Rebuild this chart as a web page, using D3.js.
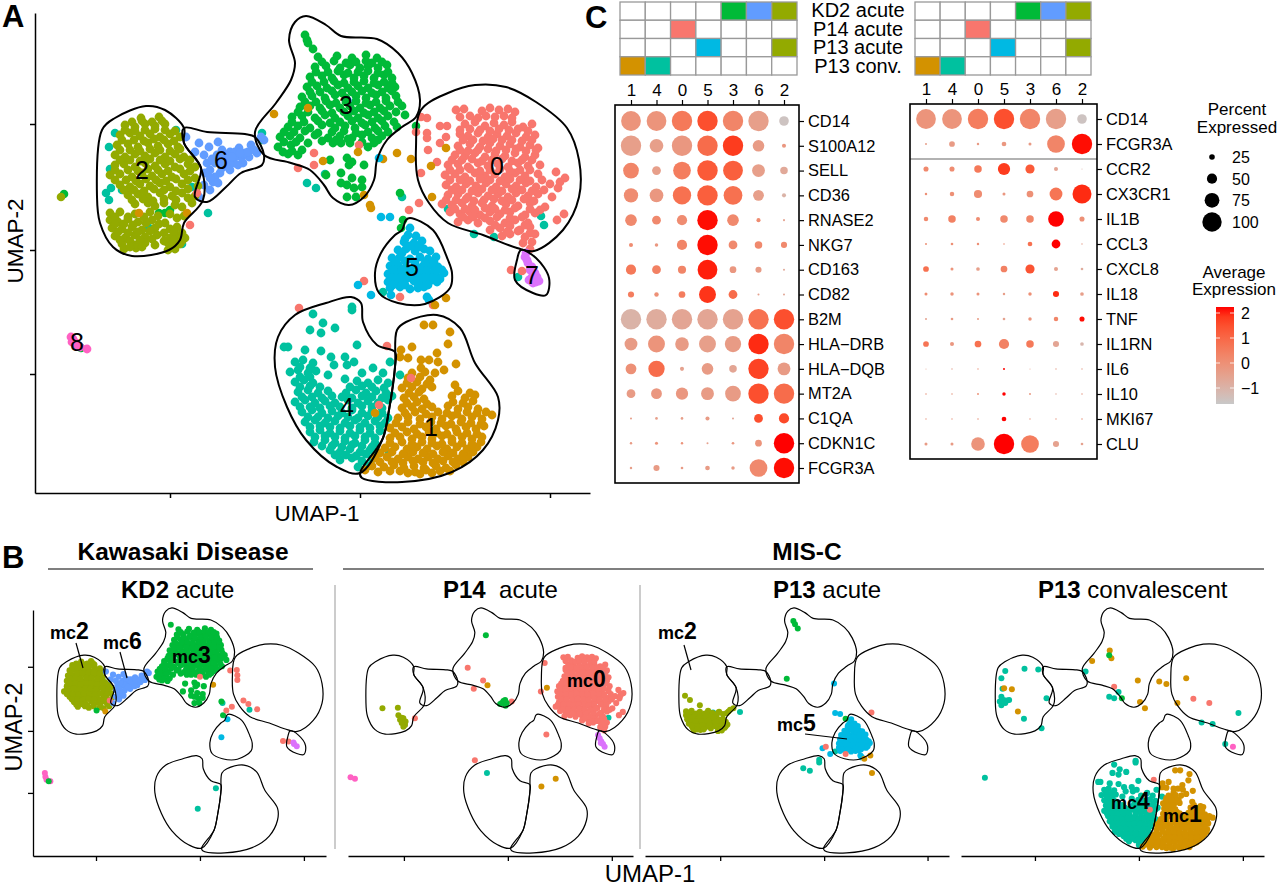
<!DOCTYPE html>
<html><head><meta charset="utf-8">
<script src="https://cdn.jsdelivr.net/npm/d3@7"></script>
<style>
html,body{margin:0;padding:0;background:#fff}
svg{display:block}
text{font-family:"Liberation Sans",Arial,sans-serif;fill:#000}
</style></head><body><svg id="fig" width="1280" height="886"></svg>
<script>
// ---------- DATA: read-off UMAP values (arbitrary read-off units) ----------
const clusterColors=["#F8766D","#D39200","#93AA00","#00BA38","#00C19F","#00B9E3","#619CFF","#DB72FB","#FF61C3"];
const cells0=[[96,140],[104,141],[122,139],[130,142],[139,140],[148,141],[155,138],[105,126],[115,128],[125,124],[134,127],[144,125],[152,128],[163,123],[172,126],
[100,116],[108,114],[118,117],[128,113],[137,116],[147,114],[156,117],[166,113],[175,115],[98,104],[110,106],[120,103],[130,107],[140,104],[150,106],[160,103],[170,105],[178,102],
[95,95],[105,94],[115,97],[125,93],[135,96],[145,94],[155,97],[165,93],[175,95],[88,85],[98,86],[108,83],[118,87],[128,84],[138,86],[148,83],[158,87],[168,84],[180,85],
[85,75],[95,76],[105,73],[115,77],[125,74],[135,76],[145,73],[155,77],[165,74],[178,76],[196,78],[205,72],[86,65],[96,63],[106,66],[116,64],[126,67],[136,63],[146,66],[156,64],[166,67],[176,63],[190,66],[198,62],
[88,55],[98,56],[108,53],[118,57],[128,54],[138,56],[148,53],[156,57],[168,54],[178,56],[192,53],[82,46],[92,45],[102,47],[112,44],[122,47],[132,44],[146,46],[158,44],[170,47],[185,43],[204,36],
[90,38],[100,36],[110,38],[120,35],[130,38],[140,36],[150,38],[165,35],[175,37],[197,30],[98,28],[108,30],[118,27],[130,29],[145,27],[155,30],[168,27],[130,20],[140,22],[160,20],[170,23],[142,14],[150,16],[165,13],[175,16],[163,7],[172,8],[170,1]];
const cells0Fill=[[100,133],[110,134],[118,132],[126,134],[135,133],[144,134],[152,132],[100,120],[110,121],[120,120],[130,119],[139,121],[149,120],[158,121],[168,119],
[103,110],[113,110],[123,109],[133,111],[142,110],[152,110],[162,109],[172,110],[100,100],[108,99],[118,100],[128,101],[136,99],[146,100],[156,101],[166,99],[176,100],
[92,90],[102,90],[112,91],[122,89],[132,90],[142,91],[152,89],[162,90],[172,90],[90,80],[100,80],[110,81],[120,79],[130,80],[140,81],[150,79],[160,80],[170,80],
[90,70],[100,70],[110,69],[120,71],[130,70],[140,69],[150,71],[160,70],[170,69],[182,70],[200,68],[92,60],[102,60],[112,59],[122,61],[132,60],[142,59],[152,61],[162,60],[172,59],[184,60],
[86,50],[96,50],[106,51],[114,49],[124,50],[134,51],[142,49],[152,50],[164,51],[174,49],[95,41],[105,41],[115,40],[125,42],[135,41],[145,40],[155,42],[170,41],[180,40],[103,33],[113,33],[125,32],[137,33],[150,32],[162,33],[135,25],[150,24],[165,25],[147,18],[158,19],[170,17]];
const cells1=[[64,-75],[73,-75],[90,-82],[41,-100],[52,-97],[77,-103],[88,-94],[40,-107],[48,-108],[61,-110],[69,-110],[78,-112],[96,-114],[61,-118],[84,-120],[75,-123],
[48,-128],[60,-127],[70,-130],[42,-138],[52,-137],[62,-139],[72,-137],[95,-135],[44,-148],[54,-147],[64,-149],[92,-146],[105,-148],[115,-145],[42,-158],[52,-157],[62,-159],[72,-157],[88,-156],[98,-159],[108,-157],[118,-159],
[38,-168],[48,-167],[60,-169],[72,-167],[82,-169],[92,-166],[102,-169],[112,-167],[122,-169],[132,-165],[30,-178],[42,-177],[54,-179],[66,-177],[76,-179],[86,-176],[96,-179],[106,-177],[116,-179],[124,-176],
[30,-188],[40,-187],[52,-189],[62,-187],[72,-189],[82,-186],[92,-189],[102,-187],[112,-189],[122,-187],[25,-198],[35,-197],[47,-199],[57,-197],[67,-199],[77,-196],[87,-199],[97,-197],[107,-199],[117,-197],
[15,-208],[27,-207],[38,-209],[48,-207],[58,-209],[68,-207],[78,-209],[88,-206],[98,-209],[108,-207],[12,-216],[24,-217],[34,-215],[44,-218],[54,-216],[64,-218],[76,-216],[86,-218],[96,-215],[5,-220],[18,-222],[48,-223],[60,-224],[72,-223]];
const cells1Fill=[[52,-123],[65,-122],[47,-133],[57,-132],[67,-134],[49,-143],[59,-142],[98,-141],[110,-143],[47,-153],[57,-152],[67,-154],[93,-152],[103,-153],[113,-151],
[45,-163],[55,-162],[66,-164],[78,-162],[87,-163],[97,-164],[107,-162],[117,-163],[126,-162],[36,-173],[48,-172],[60,-174],[71,-172],[81,-173],[91,-174],[101,-172],[111,-173],[121,-174],
[35,-183],[47,-182],[57,-184],[69,-182],[77,-183],[87,-184],[97,-182],[107,-183],[117,-184],[30,-193],[42,-192],[52,-194],[62,-192],[72,-193],[82,-194],[92,-192],[102,-193],[112,-194],[121,-192],
[20,-203],[32,-202],[43,-204],[53,-202],[63,-203],[73,-204],[83,-202],[93,-203],[103,-204],[113,-202],[20,-212],[32,-212],[43,-213],[53,-211],[63,-212],[73,-213],[83,-211],[93,-212],[103,-212],[30,-221],[40,-221],[55,-222],[66,-220],[80,-221],[90,-221]];
const cells2Upper=[[-219,132],[-201,133],[-235,125],[-225,123],[-215,126],[-205,124],[-195,126],[-240,115],[-230,117],[-220,114],[-210,116],[-200,113],[-190,116],[-180,113],
[-243,105],[-232,106],[-222,103],[-212,107],[-202,104],[-192,106],[-182,103],[-245,95],[-235,93],[-225,96],[-215,94],[-205,97],[-195,93],[-185,96],[-176,93],
[-245,85],[-236,86],[-225,83],[-215,87],[-205,84],[-195,86],[-185,83],[-172,86],[-165,83],[-250,75],[-240,76],[-228,73],[-218,77],[-208,74],[-198,76],[-188,73],[-176,76],[-165,72],
[-240,65],[-230,63],[-220,66],[-210,64],[-200,67],[-190,63],[-178,66],[-162,64],[-232,55],[-222,56],[-212,53],[-200,57],[-188,54],[-178,57],[-165,54],[-225,46],[-212,47],[-205,44],[-196,47],[-185,45],[-178,43],[-168,47]];
const cells2UpperFill=[[-228,128],[-218,129],[-208,128],[-198,129],[-235,120],[-225,119],[-215,120],[-205,121],[-195,120],[-185,119],[-238,110],[-226,110],[-216,109],[-206,111],[-196,110],[-186,109],[-240,100],[-230,100],[-220,99],[-210,101],[-200,100],[-190,99],[-180,101],
[-240,90],[-230,90],[-220,89],[-210,91],[-200,90],[-190,89],[-180,91],[-170,90],[-245,80],[-232,80],[-222,79],[-212,81],[-202,80],[-192,79],[-180,81],[-170,79],[-245,70],[-234,70],[-224,69],[-214,71],[-204,70],[-194,69],[-184,71],[-172,70],
[-236,60],[-226,60],[-216,59],[-206,61],[-196,60],[-184,59],[-172,61],[-228,50],[-217,51],[-207,49],[-196,51],[-184,50],[-172,52]];
const cells2Lower=[[-250,37],[-240,38],[-225,36],[-210,38],[-190,36],[-176,34],[-250,30],[-242,28],[-232,31],[-222,28],[-208,30],[-195,27],[-248,22],[-238,21],[-228,23],[-218,20],[-205,22],[-190,21],[-183,23],
[-245,14],[-235,12],[-225,15],[-215,13],[-203,15],[-190,12],[-182,14],[-175,12],[-238,6],[-225,5],[-215,7],[-205,5],[-192,7],[-186,4],[-180,6],[-236,1],[-224,2],[-192,0],[-185,1]];
const cells2LowerFill=[[-245,33],[-232,33],[-216,33],[-202,34],[-183,32],[-245,26],[-236,26],[-227,25],[-214,27],[-201,26],[-242,18],[-232,17],[-222,18],[-210,19],[-196,17],[-186,18],[-178,17],[-240,10],[-230,9],[-220,10],[-208,11],[-196,9],[-186,10],[-178,9],[-230,3],[-218,3],[-188,3]];
const cells3Top=[[-55,215],[-53,210],[-52,207],[-47,201]];
const cells3=[[-42,193],[-23,194],[-8,192],[6,195],[17,192],[-45,183],[-34,184],[-20,182],[-10,185],[0,182],[8,184],[18,182],[27,185],[-50,173],[-38,174],[-28,172],[-16,175],[-6,172],[4,174],[14,172],[24,175],[32,172],
[-53,163],[-43,164],[-33,162],[-22,165],[-12,162],[-2,164],[8,162],[18,165],[28,162],[35,163],[-58,153],[-48,154],[-35,152],[-25,155],[-14,152],[-4,154],[6,152],[16,155],[26,152],[36,154],
[-60,143],[-50,144],[-40,142],[-30,145],[-20,142],[-10,144],[0,142],[10,145],[20,142],[30,144],[42,144],[-68,133],[-58,134],[-45,132],[-35,135],[-25,132],[-12,134],[-2,132],[8,135],[18,132],[28,134],[45,135],
[-72,123],[-62,124],[-50,122],[-38,125],[-25,122],[-15,124],[-5,122],[5,125],[15,122],[25,124],[37,123],[-80,113],[-70,114],[-60,112],[-45,115],[-32,112],[-20,114],[-8,112],[2,115],[12,112],[22,114],
[-82,103],[-69,105],[-52,107],[-27,107],[-19,107],[-10,107],[8,103],[18,110],[-72,96],[-62,95],[-30,90],[-13,92],[-8,88],[4,85],[-11,85],[-19,77],[-34,75],[-8,72],[2,70],[-13,65],[-6,62],[2,63],[-13,53],[-4,53],[-19,67]];
const cells3Fill=[[-38,188],[-26,189],[-14,187],[-4,188],[6,189],[12,187],[22,188],[-44,178],[-32,178],[-22,179],[-12,177],[-2,178],[8,179],[18,177],[28,178],[-48,168],[-36,168],[-26,169],[-16,167],[-6,168],[4,169],[14,167],[24,168],[32,167],
[-50,158],[-40,158],[-28,159],[-18,157],[-8,158],[2,159],[12,157],[22,158],[32,159],[-55,148],[-44,148],[-34,149],[-24,147],[-14,148],[-4,149],[6,147],[16,148],[26,149],[38,148],[-62,138],[-52,138],[-38,139],[-28,137],[-16,138],[-6,139],[4,137],[14,138],[24,139],[36,138],
[-68,128],[-56,128],[-42,129],[-30,127],[-20,128],[-8,129],[2,127],[12,128],[22,129],[34,128],[-76,118],[-66,118],[-55,119],[-42,117],[-28,118],[-16,119],[-4,117],[8,118],[18,119],[28,118],[-76,108],[-64,108],[-38,109],[-24,110],[-12,111],[2,108],[14,107],[-77,98],[-68,99],[-58,100]];
const cells4=[[-8,-57],[-8,-60],[-47,-64],[-37,-73],[-50,-80],[-39,-83],[-25,-78],[-3,-95],[-76,-97],[-72,-97],[-55,-100],[-39,-101],[-29,-107],[-15,-107],[-6,-112],[-26,-115],[-13,-115],[30,-112],[13,-118],[-32,-125],[-15,-129],[2,-123],[23,-123],[40,-125],
[-65,-112],[-57,-110],[-47,-113],[-70,-122],[-62,-120],[-52,-123],[-44,-121],[-65,-132],[-56,-130],[-47,-133],[-3,-131],[8,-133],[18,-130],[28,-133],[-62,-142],[-52,-140],[-42,-143],[-32,-141],[-14,-143],[-4,-140],[6,-143],[16,-141],[26,-143],
[-65,-152],[-55,-150],[-45,-153],[-35,-151],[-25,-153],[-12,-150],[-2,-153],[8,-151],[18,-153],[28,-150],[-58,-162],[-48,-160],[-38,-163],[-28,-161],[-18,-163],[-8,-160],[2,-163],[12,-161],[22,-163],
[-55,-172],[-45,-170],[-35,-173],[-25,-171],[-15,-173],[-5,-170],[5,-173],[15,-171],[25,-173],[-50,-182],[-40,-180],[-30,-183],[-20,-181],[-10,-183],[0,-180],[10,-183],[20,-181],[-46,-192],[-35,-190],[-25,-193],[-15,-191],[-5,-193],[5,-190],[15,-193],
[-30,-200],[-20,-202],[-10,-199],[0,-202],[10,-200],[29,-203],[-20,-210],[-8,-208],[2,-211],[12,-209],[-2,-217],[8,-216]];
const cells4Fill=[[-60,-117],[-50,-118],[-60,-127],[-50,-127],[-60,-137],[-50,-136],[-40,-137],[-10,-137],[2,-136],[12,-137],[24,-138],[-58,-147],[-48,-147],[-38,-148],[-28,-146],[-18,-147],[-8,-148],[2,-146],[12,-147],[22,-148],[32,-146],
[-60,-157],[-50,-157],[-40,-158],[-30,-156],[-20,-157],[-8,-158],[2,-156],[12,-157],[22,-158],[-52,-167],[-42,-167],[-32,-168],[-22,-166],[-12,-167],[-2,-168],[8,-166],[18,-167],[28,-168],[-50,-177],[-40,-176],[-30,-177],[-20,-178],[-10,-176],[0,-177],[10,-178],[20,-176],
[-45,-187],[-35,-186],[-25,-187],[-15,-188],[-5,-186],[5,-187],[15,-188],[-38,-196],[-28,-196],[-18,-197],[-8,-195],[2,-196],[12,-197],[-25,-205],[-14,-205],[-4,-206],[6,-204],[16,-205]];
const cells5=[[50,22],[48,15],[56,14],[44,8],[54,7],[62,9],[38,0],[46,1],[55,-1],[64,1],[70,-1],[32,-8],[40,-7],[50,-9],[60,-7],[68,-9],[76,-7],[30,-16],[38,-15],[46,-17],[55,-15],[62,-17],[70,-15],[78,-17],
[28,-24],[36,-23],[44,-25],[52,-23],[60,-25],[68,-23],[76,-25],[84,-23],[28,-32],[36,-31],[44,-33],[54,-31],[62,-33],[70,-31],[77,-32],[30,-38],[40,-37],[50,-39],[58,-38],[64,-37],[67,-47],[69,-50],
[45,11],[50,4],[42,-3],[59,3],[36,-12],[45,-11],[55,-12],[65,-13],[74,-12],[33,-20],[42,-20],[50,-20],[59,-20],[66,-21],[74,-21],[82,-20],[32,-28],[40,-28],[48,-28],[56,-28],[64,-28],[72,-28],[80,-29],[33,-35],[45,-35],[58,-34],[68,-35]];
const cells6=[[-174,113],[-161,107],[-165,98],[-151,103],[-142,108],[-130,98],[-121,102],[-109,105],[-103,97],[-119,93],[-126,92],[-134,90],[-143,95],[-153,87],[-145,87],[-138,82],[-126,87],[-117,87],[-111,93],[-155,77],[-145,73],[-140,77],[-147,68],[-150,60],[-161,53],[-130,80],[-96,110],[-99,113],[-135,95],[-125,98],[-115,97],[-140,88],[-130,86],
[-156,95],[-148,91],[-138,100],[-128,93],[-120,97],[-112,98],[-134,84],[-122,85],[-150,80],[-142,67],[-150,72],[-156,65],[-106,100]];
const cells7=[[166,-3],[165,-7],[168,-13],[170,-20],[175,-23],[172,-27],[169,-30],[176,-32],[167,-10],[172,-17],[177,-27],[173,-33],[179,-31]];
const cells8=[[-289,-87],[-287,-89],[-288,-92],[-286,-92],[-284,-93],[-283,-95],[-280,-97],[-273,-99]];
const straysA=[[0,67,132],[0,61,133],[0,80,124],[0,87,124],[0,67,117],[0,67,112],[0,56,118],[0,86,113],[0,68,100],[0,80,107],[0,77,88],[0,61,77],[0,59,47],[0,49,40],[0,-62,82],[0,-46,97],[0,-46,85],[0,-1,105],[0,-170,25],[0,-163,57],[0,-61,-58],[0,4,-31],[0,40,-47],[0,27,-96],[0,51,-128],[0,19,-155],[0,73,-55],[0,151,-20],[0,162,-21],
[1,-86,136],[1,-52,142],[1,-37,89],[1,-2,98],[1,23,91],[1,37,97],[1,51,91],[1,71,84],[1,86,102],[1,72,53],[1,10,45],[1,11,42],[1,4,55],[1,-173,37],[1,-221,37],[1,75,-55],[1,86,-48],[1,15,-163],
[4,-251,103],[4,-250,81],[4,-245,117],[4,-254,57],[4,-249,62],[4,-251,50],[4,-238,60],[4,-168,63],[4,-152,37],[4,-211,22],[4,-178,6],[4,-53,67],[4,-44,62],[4,-35,76],[4,42,53],[4,88,41],[4,181,34],[4,184,25],[4,114,16],[4,134,13],[4,-184,120],[4,-98,117],[4,23,-42],[4,158,-27],
[3,-201,37],[3,-190,40],[3,-195,37],[3,56,124],[3,43,30],[3,41,22],[3,40,57],[3,-98,110],[3,-279,-98],[3,-296,56],[2,-299,53],[5,21,33],[5,30,33],[5,19,92],[5,31,-45],[5,11,-45],[5,-2,-35]];
const extrasKD2=[[3,-56,202],[3,-191,39],[3,36,56],[3,39,30],[0,52,115],[0,64,116],[0,65,106],[0,65,97],[0,76,58],[0,85,51],[0,101,41],[0,55,46],[0,45,39],[0,148,-19],[0,158,-20],[0,-3,103],[0,-167,58],[1,-175,37],[1,21,88],[4,87,40],[4,26,-109],[4,-7,-148],[4,38,53],[5,47,22],[5,36,-12],[7,168,-25],[7,173,-29],[7,167,-22],[8,-285,-80],[8,-284,-87],[8,-282,-93],[8,-275,-96],[3,-278,-96]];
const extrasP14=[[2,-233,43],[2,-205,44],[2,-204,30],[2,-201,21],[2,-195,24],[2,-198,15],[2,-192,11],[2,-195,8],[2,-191,18],[2,-198,25],[0,-174,24],[0,-78,120],[0,-50,96],[0,-67,80],[0,2,56],[0,62,129],[0,55,75],[0,65,-7],[0,-65,-56],[1,-42,87],[1,66,82],[1,56,-106],[1,82,-91],[3,-45,182],[3,-16,53],[3,-10,59],[3,-7,53],[3,-13,57],[3,-19,51],[3,-9,48],[4,178,25],[4,-43,-80],[7,159,-8],[7,162,-14],[7,165,-20],[7,168,-25],[7,171,-30],[7,164,-23],[8,-291,-88],[8,-283,-91]];
const extrasP13a=[[3,-55,209],[3,-52,203],[3,-47,195],[3,-67,99],[3,40,23],[5,19,90],[5,21,34],[5,30,32],[5,-2,-33],[5,12,-44],[0,87,35],[0,4,-30],[0,40,-44],[4,-152,36],[4,-201,35],[4,-37,-71],[4,-25,-76],[4,-8,-55],[4,-8,-60],[4,21,-39],[1,74,-53],[1,85,-47],[1,88,-80],[2,-252,67],[2,-243,59],[2,-225,49],[2,-192,34],[2,-170,40],[2,-164,43],[2,-173,37]];
const extrasP13c=[[4,-245,114],[4,-210,118],[4,-185,117],[4,-252,100],[4,-250,80],[4,-252,65],[4,-248,59],[4,-255,56],[4,-242,58],[4,-238,59],[4,-252,49],[4,-245,53],[4,-211,23],[4,-179,5],[4,-170,62],[4,-282,-89],[4,-99,113],[4,-39,74],[4,-56,65],[4,-47,62],[4,179,34],[4,112,16],[4,132,13],[4,155,-25],[1,-247,81],[1,-233,79],[1,-222,37],[1,-87,133],[1,-55,153],[1,-52,138],[1,-4,96],[1,35,94],[1,48,89],[1,84,100],[1,68,53],[1,0,55],[1,9,43],[0,-47,84],[0,97,61],[0,126,53],[0,25,-93],[0,18,-150],[3,-56,144],[3,-33,62],[8,169,-30]];
const outline0=[[115,165],[146,163],[176,148],[207,122],[219,90],[219,53],[203,20],[174,-1],[157,2],[123,15],[88,27],[69,47],[58,70],[56,103],[61,140],[88,157]];
const outline1=[[37,-80],[46,-72],[77,-65],[100,-78],[115,-113],[138,-147],[138,-170],[123,-200],[92,-222],[42,-232],[2,-228],[0,-223],[17,-198],[23,-188],[29,-160],[35,-117]];
const outline2=[[-214,144],[-195,140],[-176,122],[-176,107],[-159,82],[-157,50],[-176,27],[-180,10],[-191,0],[-228,-6],[-247,3],[-260,27],[-263,53],[-258,120],[-245,132]];
const outline3=[[-54,234],[-34,225],[-19,214],[17,211],[38,197],[52,177],[60,150],[56,133],[42,123],[27,110],[17,90],[14,70],[4,53],[-11,45],[-27,52],[-36,65],[-50,80],[-69,87],[-96,95],[-105,118],[-84,147],[-69,170],[-65,187],[-71,210],[-65,228]];
const outline4=[[-9,-47],[1,-53],[3,-72],[17,-95],[35,-102],[35,-117],[29,-160],[23,-188],[0,-223],[-23,-217],[-54,-190],[-73,-157],[-85,-117],[-82,-87],[-65,-65],[-34,-53]];
const outline5=[[50,32],[73,20],[88,-10],[92,-23],[90,-38],[65,-54],[38,-53],[19,-43],[15,-23],[21,-3],[35,15],[42,20],[46,30]];
const outline6=[[-176,122],[-153,118],[-115,116],[-105,113],[-96,95],[-98,85],[-119,77],[-134,63],[-153,48],[-165,53],[-159,82],[-176,107]];
const outline7=[[161,0],[176,-8],[189,-28],[186,-45],[173,-43],[155,-30],[157,-10]];
const clusterLabels=["0","1","2","3","4","5","6","7","8"];
const labelU=[137,71,-218,-14,-13,52,-139,172,-283];
const labelV=[84,-177,80,145,-157,-17,90,-25,-92];
const xTicksA=[-190,0,190], yTicksA=[-124,0,126];
const facetTitleBold=["KD2","P14","P13","P13"];
const facetTitleRest=[" acute","  acute"," acute"," convalescent"];
const colOrder=["1","4","0","5","3","6","2"];
const gridRows=["KD2 acute","P14 acute","P13 acute","P13 conv."];
const gridFill=[[null,null,null,null,3,6,2],[null,null,0,null,null,null,null],[null,null,null,5,null,null,2],[1,4,null,null,null,null,null]];
const genesL=["CD14","S100A12","SELL","CD36","RNASE2","NKG7","CD163","CD82","B2M","HLA\u2212DRB","HLA\u2212DQB","MT2A","C1QA","CDKN1C","FCGR3A"];
const pctL=[[97,97,100,100,100,100,47],[100,67,100,100,100,57,20],[77,43,87,100,97,63,37],[70,67,90,100,92,53,20],[57,43,50,100,57,20,10],[20,17,50,100,43,37,30],[50,43,40,97,33,30,10],[30,22,33,83,43,10,10],[100,100,100,100,100,100,100],[63,83,67,83,80,100,100],[53,80,20,57,37,100,63],[43,53,60,63,77,100,100],[10,13,13,20,10,43,50],[12,15,12,10,13,33,100],[12,30,13,23,17,87,100]];
const expL=[[-.1,-.1,.6,1.5,.3,-.4,-1.5],[-.4,-.4,-.2,.9,1.8,-.3,-.2],[.3,-.4,.5,1.3,1.2,-.4,-.7],[.1,-.2,.8,1.2,.8,-.4,-1],[.2,.2,.1,2.2,.2,.1,-.5],[.1,-.2,.3,2.2,.2,.2,.2],[.6,.4,.3,2.1,-.2,-.3,-.7],[.5,0,.5,1.9,.9,-.5,-.7],[-1,-.8,-.6,-.6,-.5,.8,1.5],[-.3,-.1,-.3,-.4,-.3,2,.3],[0,.9,-.5,-.3,-.6,1.7,-.3],[-.3,-.2,-.2,-.3,-.3,1.5,.9],[-.4,-.4,-.4,-.3,-.6,1.5,1.6],[-.3,-.1,-.1,-.5,-.2,-.1,2.3],[-.4,-.3,-.3,-.3,-.3,.2,2.2]];
const genesR=["CD14","FCGR3A","CCR2","CX3CR1","IL1B","CCL3","CXCL8","IL18","TNF","IL1RN","IL6","IL10","MKI67","CLU"];
const pctR=[[97,97,100,100,100,100,47],[10,28,12,23,15,87,100],[25,25,37,60,45,20,5],[12,22,40,15,33,63,93],[22,37,20,37,37,77,25],[10,13,12,8,23,43,7],[28,15,18,33,45,20,13],[15,17,15,12,17,30,18],[10,13,10,13,17,22,25],[28,20,33,50,37,30,18],[5,7,7,10,5,7,7],[8,8,10,17,10,7,8],[7,7,8,23,7,7,8],[15,15,67,100,87,30,13]];
const expR=[[-.1,-.1,.5,1.5,.3,-.4,-1.5],[-.4,-.3,-.3,-.2,-.3,.3,2.2],[.2,.1,.6,1.8,1.3,-.6,-1],[0,0,.1,-.2,0,.7,2],[.2,.4,.1,.2,.3,2.3,0],[0,0,0,-.1,.8,2.3,-.5],[.8,-.1,-.4,.4,1.4,-.5,-.8],[.1,-.1,-.1,-.4,0,2,-.4],[-.5,-.3,-.3,-.5,-.1,.3,2.2],[.7,-.2,.8,.4,.6,-.6,-1.1],[-.6,-.6,-.2,2.3,-.4,-.5,-.5],[-.3,-.4,-.1,2.3,-.3,-.7,-.5],[-.3,-.3,-.3,2.3,-.3,-.3,-.3],[-.3,-.3,-.1,2.3,.5,-.5,-.5]];
const legendPct=[25,50,75,100];
const legendExp=[2,1,0,-1];

// ---------- DRAW ----------
const svg=d3.select("#fig");
const outlines=[outline0,outline1,outline2,outline3,outline4,outline5,outline6,outline7];
const all0=cells0.concat(cells0Fill), all1=cells1.concat(cells1Fill), all3=cells3.concat(cells3Fill), all4=cells4.concat(cells4Fill);
const all2U=cells2Upper.concat(cells2UpperFill), all2L=cells2Lower.concat(cells2LowerFill), cells2=all2U.concat(all2L);
const text=(g,x,y,s,size,o={})=>g.append("text").attr("x",x).attr("y",y).attr("font-size",size)
  .attr("text-anchor",o.anchor||"start").attr("font-weight",o.bold?"bold":"normal").attr("transform",o.rot?`rotate(-90 ${x} ${y})`:null).text(s);
const dots=(g,data,color,x,y,r)=>g.append("g").selectAll("circle").data(data).join("circle")
  .attr("cx",d=>x(d[0])).attr("cy",d=>y(d[1])).attr("r",r).attr("fill",color);
const strayDots=(g,data,x,y,r)=>g.append("g").selectAll("circle").data(data).join("circle")
  .attr("cx",d=>x(d[1])).attr("cy",d=>y(d[2])).attr("r",r).attr("fill",d=>clusterColors[d[0]]);
const line=(x,y)=>d3.line().x(d=>x(d[0])).y(d=>y(d[1])).curve(d3.curveCatmullRomClosed.alpha(0.5));
const drawOutlines=(g,x,y,w)=>g.append("g").selectAll("path").data(outlines).join("path")
  .attr("d",line(x,y)).attr("fill","none").attr("stroke","#000").attr("stroke-width",w);
function styleAxis(sel,w){sel.selectAll("path,line").attr("stroke","#000").attr("stroke-width",w);sel.selectAll("text").remove();}

// Panel A
const gA=svg.append("g");
const xA=d3.scaleLinear().domain([-325,230]).range([35,590]);
const yA=d3.scaleLinear().domain([-243,237]).range([493,13]);
strayDots(gA,straysA.filter(d=>d[0]==4||d[0]==3),xA,yA,4.3);
[[all0,0],[cells6,6],[cells2,2],[cells3Top,3],[all3,3],[cells5,5],[all4,4],[all1,1],[cells7,7],[cells8,8]].forEach(([c,i])=>dots(gA,c,clusterColors[i],xA,yA,4.4));
strayDots(gA,straysA.filter(d=>d[0]!=4&&d[0]!=3),xA,yA,4.3);
drawOutlines(gA,xA,yA,2);
gA.append("g").attr("transform","translate(0,493)").call(d3.axisBottom(xA).tickValues(xTicksA).tickSize(5).tickSizeOuter(0)).call(styleAxis,1.5);
gA.append("g").attr("transform","translate(35,0)").call(d3.axisLeft(yA).tickValues(yTicksA).tickSize(5).tickSizeOuter(0)).call(styleAxis,1.5);
clusterLabels.forEach((s,i)=>text(gA,xA(labelU[i]),yA(labelV[i])+9,s,25,{anchor:"middle"}));
text(gA,317,521,"UMAP-1",22.5,{anchor:"middle"});
text(gA,23,241,"UMAP-2",22.5,{anchor:"middle",rot:true});
text(svg,2,27,"A",31,{bold:true});
text(svg,2,568,"B",31,{bold:true});
text(svg,585,28,"C",31,{bold:true});

// Panel B
text(svg,183,560,"Kawasaki Disease",24.5,{anchor:"middle",bold:true});
text(svg,807,560,"MIS-C",24.5,{anchor:"middle",bold:true});
[[48,313],[343,1264]].forEach(([a,b])=>svg.append("line").attr("x1",a).attr("x2",b).attr("y1",569).attr("y2",569).attr("stroke","#000").attr("stroke-width",1.2));
[335,640].forEach(x=>svg.append("line").attr("x1",x).attr("x2",x).attr("y1",585).attr("y2",849).attr("stroke","#bbb").attr("stroke-width",1.5));
const yB=d3.scaleLinear().domain([-238,230]).range([856,610]);
const facets=[
 {a:33,b:326,o:201.6,ticks:[-192,-3,186],sets:[[all2U,2],[cells6,6],[all3,3]],extra:extrasKD2,tx:121},
 {a:348,b:633,o:510.6,ticks:[-194,-5,184],sets:[[all0,0]],extra:extrasP14,tx:443},
 {a:645,b:949,o:823.6,ticks:[-188,1,189],sets:[[all2L,2],[cells5,5]],extra:extrasP13a,tx:773},
 {a:961,b:1264,o:1140,ticks:[-191,-2,187],sets:[[all4,4],[all1,1]],extra:extrasP13c,tx:1038}];
facets.forEach((f,i)=>{
  const g=svg.append("g");
  const x=d3.scaleLinear().domain([(f.a-f.o)/.55,(f.b-f.o)/.55]).range([f.a,f.b]);
  strayDots(g,f.extra.filter(d=>d[0]==4),x,yB,3);
  f.sets.forEach(([c,k])=>dots(g,c,clusterColors[k],x,yB,3.1));
  strayDots(g,f.extra.filter(d=>d[0]!=4),x,yB,3);
  drawOutlines(g,x,yB,1.2);
  g.append("g").attr("transform","translate(0,856)").call(d3.axisBottom(x).tickValues(f.ticks).tickSize(5).tickSizeOuter(0)).call(styleAxis,1.3);
  if(i==0) g.append("g").attr("transform",`translate(${f.a},0)`).call(d3.axisLeft(yB).tickValues([-118,0,122]).tickSize(5).tickSizeOuter(0)).call(styleAxis,1.3);
  const t=g.append("text").attr("x",f.tx).attr("y",598).attr("font-size",24).attr("xml:space","preserve");
  t.append("tspan").attr("font-weight","bold").text(facetTitleBold[i]);
  t.append("tspan").text(facetTitleRest[i]);
});
const mc=(x,y,d)=>{const t=svg.append("text").attr("x",x).attr("y",y).attr("font-weight","bold");
  t.append("tspan").attr("font-size",18).text("mc");t.append("tspan").attr("font-size",23).text(d);};
[[50,639,"2"],[103,649,"6"],[172,663,"3"],[567,687,"0"],[658,639,"2"],[777,731,"5"],[1111,809,"4"],[1163,822,"1"]].forEach(a=>mc(...a));
[[76,643,83,668],[120,652,127,678],[684,645,691,670],[805,734,847,739]].forEach(([a,b,c,d])=>svg.append("line").attr("x1",a).attr("y1",b).attr("x2",c).attr("y2",d).attr("stroke","#000").attr("stroke-width",1.2));
text(svg,650,882,"UMAP-1",24,{anchor:"middle"});
text(svg,22,727,"UMAP-2",23.5,{anchor:"middle",rot:true});

// Panel C
const color=d3.scaleLinear().domain([-1.64,2.24]).range(["#C8C8C8","#FF0000"]).interpolate(d3.interpolateLab).clamp(true);
const radius=d3.scaleLinear().domain([0,100]).range([0,10.2]);
function grid(x0,x1){
  const cx=d3.scaleBand().domain(colOrder).range([x0,x1]);
  const ry=d3.scaleBand().domain(gridRows).range([2,75]);
  const g=svg.append("g");
  gridRows.forEach((r,ri)=>colOrder.forEach((c,ci)=>{
    const k=gridFill[ri][ci];
    g.append("rect").attr("x",cx(c)).attr("y",ry(r)).attr("width",cx.bandwidth()).attr("height",ry.bandwidth())
     .attr("fill",k===null?"#fff":clusterColors[k]).attr("stroke","#999").attr("stroke-width",1.3);
  }));
}
grid(620,797);grid(915,1091);
gridRows.forEach((r,i)=>text(svg,858,[17,36,54,73][i],r,20,{anchor:"middle"}));
function dotPlot(genes,pct,exp,bx0,bx1,by0,by1,c0,c1,r0,r1,sep){
  const x=d3.scalePoint().domain(colOrder).range([c0,c1]);
  const y=d3.scalePoint().domain(genes).range([r0,r1]);
  const g=svg.append("g");
  g.selectAll("g.row").data(genes).join("g").attr("class","row").each(function(gene,ri){
    d3.select(this).selectAll("circle").data(colOrder).join("circle")
     .attr("cx",c=>x(c)).attr("cy",y(gene)).attr("r",(c,ci)=>radius(pct[ri][ci])).attr("fill",(c,ci)=>color(exp[ri][ci]));
  });
  if(sep) g.append("line").attr("x1",bx0).attr("x2",bx1).attr("y1",y(genes[1])+15).attr("y2",y(genes[1])+15).attr("stroke","#999").attr("stroke-width",1.3);
  g.append("rect").attr("x",bx0).attr("y",by0).attr("width",bx1-bx0).attr("height",by1-by0).attr("fill","none").attr("stroke","#000").attr("stroke-width",1.6);
  const top=g.append("g").attr("transform",`translate(0,${by0})`).call(d3.axisTop(x).tickSize(5).tickPadding(4));
  top.select(".domain").remove();top.selectAll("line").attr("stroke","#000").attr("stroke-width",1.2);
  top.selectAll("text").attr("font-size",17).attr("font-family","Liberation Sans").attr("fill","#000");
  const right=g.append("g").attr("transform",`translate(${bx1},0)`).call(d3.axisRight(y).tickSize(5).tickPadding(4));
  right.select(".domain").remove();right.selectAll("line").attr("stroke","#000").attr("stroke-width",1.2);
  right.selectAll("text").attr("font-size",16.4).attr("font-family","Liberation Sans").attr("fill","#000");
}
dotPlot(genesL,pctL,expL,615,799,105,483,631,784,121,468,false);
dotPlot(genesR,pctR,expR,910,1097,104,459,926,1082,119,444,true);
// legends
text(svg,1237,115,"Percent",17,{anchor:"middle"});
text(svg,1237,133,"Expressed",17,{anchor:"middle"});
const ly=d3.scalePoint().domain(legendPct).range([157,222]);
legendPct.forEach(p=>{svg.append("circle").attr("cx",1212).attr("cy",ly(p)).attr("r",radius(p)*.9+.5).attr("fill","#000");
  text(svg,1232,ly(p)+6,String(p),16);});
text(svg,1234,278,"Average",17,{anchor:"middle"});
text(svg,1234,295,"Expression",17,{anchor:"middle"});
const cbY=d3.scaleLinear().domain([-1.64,2.24]).range([404,307]);
const defs=svg.append("defs").append("linearGradient").attr("id","cb").attr("x1",0).attr("x2",0).attr("y1",1).attr("y2",0);
d3.range(0,1.01,.1).forEach(t=>defs.append("stop").attr("offset",t).attr("stop-color",color(-1.64+t*3.88)));
svg.append("rect").attr("x",1216).attr("y",307).attr("width",18).attr("height",97).attr("fill","url(#cb)");
legendExp.forEach(v=>{
  [[1216,1220],[1230,1234]].forEach(([a,b])=>svg.append("line").attr("x1",a).attr("x2",b).attr("y1",cbY(v)).attr("y2",cbY(v)).attr("stroke","#fff").attr("stroke-width",.8));
  text(svg,1241,cbY(v)+6,v<0?"\u2212"+(-v):String(v),16);
});
</script></body></html>
